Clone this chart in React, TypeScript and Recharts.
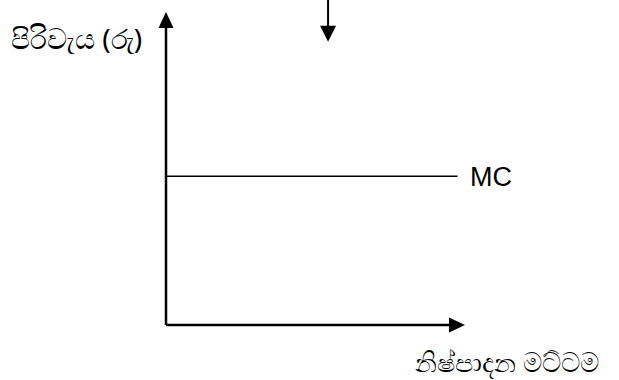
import React from 'react'
import {
  ComposedChart,
  Line,
  XAxis,
  YAxis,
  ReferenceDot,
  ReferenceLine,
  Customized,
} from 'recharts'

// horizontal marginal cost curve (output level -> cost)
const OUTPUT = [0, 9.75]
const MC_COST = [4.75, 4.75]
const X_DOMAIN = [0, 10]
const Y_DOMAIN = [0, 10]

// stray arrow pointing down at the top of the figure
const DOWN_ARROW_X = 5.42
const DOWN_ARROW_FROM = 10.4
const DOWN_ARROW_TO = 9.05

const data = OUTPUT.map((q, i) => ({ q, mc: MC_COST[i] }))

const UpHead = (props: any) => {
  const { cx, cy } = props
  return <polygon points={`${cx},${cy} ${cx - 7.5},${cy + 16} ${cx + 7.5},${cy + 16}`} fill="#000" />
}

const RightHead = (props: any) => {
  const { cx, cy } = props
  return <polygon points={`${cx},${cy} ${cx - 16},${cy - 7.5} ${cx - 16},${cy + 7.5}`} fill="#000" />
}

const DownHead = (props: any) => {
  const { cx, cy } = props
  return <polygon points={`${cx},${cy} ${cx - 8},${cy - 16} ${cx + 8},${cy - 16}`} fill="#000" />
}

const Labels = () => (
  <g fontFamily="'Noto Sans', 'DejaVu Sans', sans-serif" fill="#000">
    <text x={11} y={49} fontSize={28}>පිරිවැය (රු)</text>
    <text x={470} y={186} fontSize={27} fontFamily="'Liberation Sans', Arial, sans-serif">MC</text>
    <text x={415} y={372} fontSize={27}>නිෂ්පාදන මට්ටම</text>
  </g>
)

export default function App() {
  React.useEffect(() => {
    document.body.style.margin = '0'
  }, [])
  return (
    <div style={{ width: 619, height: 380, background: '#fff' }}>
      <ComposedChart
        width={619}
        height={380}
        data={data}
        margin={{ top: 12, right: 154, bottom: 55, left: 166 }}
      >
        <XAxis dataKey="q" type="number" domain={X_DOMAIN} hide />
        <YAxis type="number" domain={Y_DOMAIN} hide />
        <Line
          dataKey="mc"
          stroke="#000"
          strokeWidth={1.5}
          dot={false}
          isAnimationActive={false}
        />
        {/* axes */}
        <ReferenceLine
          segment={[{ x: 0, y: 0 }, { x: 0, y: 9.6 }]}
          stroke="#000"
          strokeWidth={2.5}
          ifOverflow="visible"
        />
        <ReferenceLine
          segment={[{ x: 0, y: 0 }, { x: 9.6, y: 0 }]}
          stroke="#000"
          strokeWidth={2.5}
          ifOverflow="visible"
        />
        <ReferenceDot x={0} y={10} r={0} ifOverflow="visible" shape={<UpHead />} />
        <ReferenceDot x={10} y={0} r={0} ifOverflow="visible" shape={<RightHead />} />
        <ReferenceLine
          segment={[
            { x: DOWN_ARROW_X, y: DOWN_ARROW_FROM },
            { x: DOWN_ARROW_X, y: DOWN_ARROW_TO + 0.3 },
          ]}
          stroke="#000"
          strokeWidth={2}
          ifOverflow="visible"
        />
        <ReferenceDot
          x={DOWN_ARROW_X}
          y={DOWN_ARROW_TO}
          r={0}
          ifOverflow="visible"
          shape={<DownHead />}
        />
        <Customized component={Labels} />
      </ComposedChart>
    </div>
  )
}
